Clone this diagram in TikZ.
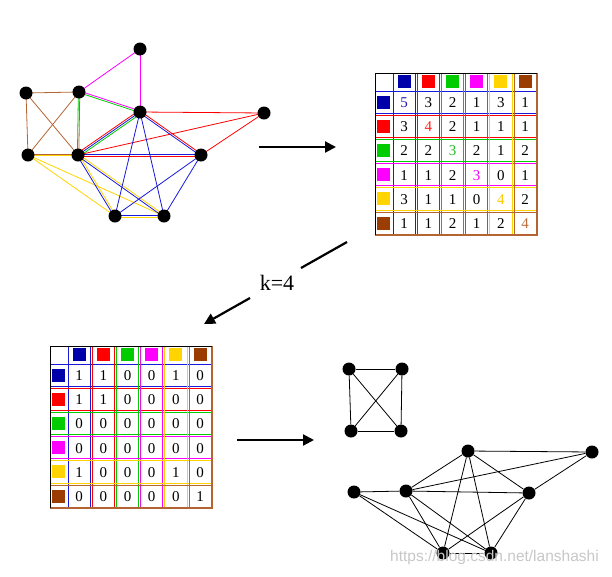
\documentclass[tikz,border=0pt]{standalone}
\usepackage{fontspec}
\setmainfont{Liberation Serif}
\newfontfamily\wmfont{Liberation Sans}
\usetikzlibrary{calc,arrows.meta}
\definecolor{cblue}{RGB}{0,0,170}
\definecolor{lblue}{RGB}{25,25,220}
\definecolor{cred}{RGB}{255,0,0}
\definecolor{cgreen}{RGB}{0,204,0}
\definecolor{cmag}{RGB}{255,0,255}
\definecolor{cyel}{RGB}{255,212,0}
\definecolor{cbrown}{RGB}{155,60,0}
\definecolor{lbrown}{RGB}{180,100,50}
\definecolor{dg0}{RGB}{30,30,170}
\definecolor{dg1}{RGB}{255,30,30}
\definecolor{dg2}{RGB}{30,190,30}
\definecolor{dg3}{RGB}{240,0,240}
\definecolor{dg4}{RGB}{255,200,0}
\definecolor{dg5}{RGB}{190,110,60}
\newcommand{\medge}[4]{\draw[#1] ($(#2)!#4!90:(#3)$) -- ($(#3)!#4!-90:(#2)$);}
\newcommand{\hh}{17}
\newcommand{\cc}{24.2}
\newcommand{\mw}{162.2}
\tikzset{
  vtx/.style={circle,fill=black,minimum size=13pt,inner sep=0pt},
  eline/.style={line width=0.8pt},
  bigarrow/.style={line width=2.2pt,-{Triangle[length=11pt,width=11pt]}},
  bigline/.style={line width=2.2pt},
  band/.style={line width=0.9pt},
  numtxt/.style={font=\fontsize{15}{15}\selectfont,inner sep=0pt},
  sq/.style={minimum size=13pt,inner sep=0pt},
}
\begin{document}
\begin{tikzpicture}[x=1pt,y=-1pt]
\useasboundingbox (0,0) rectangle (612,576);

% ---------- top graph ----------
\coordinate (A) at (140,49);
\coordinate (B) at (26,93);
\coordinate (C) at (79,92);
\coordinate (D) at (140,112);
\coordinate (E) at (264,113);
\coordinate (F) at (28,155);
\coordinate (G) at (78,155);
\coordinate (H) at (201,155);
\coordinate (I) at (115,216);
\coordinate (J) at (164,216);
\begin{scope}[eline]
% magenta
\medge{cmag}{A}{C}{0pt}
\medge{cmag}{A}{D}{0pt}
\medge{cmag}{C}{D}{1.1pt}
% green
\medge{cgreen}{C}{D}{-0.6pt}
\medge{cgreen}{C}{G}{-0.6pt}
\medge{cgreen}{G}{D}{-1.8pt}
% brown
\medge{lbrown}{B}{C}{0pt}
\medge{lbrown}{B}{F}{0pt}
\medge{lbrown}{B}{G}{0pt}
\medge{lbrown}{C}{F}{0pt}
\medge{lbrown}{C}{G}{0.8pt}
\medge{lbrown}{F}{G}{0.8pt}
% red
\medge{cred}{G}{D}{1.8pt}
\medge{cred}{G}{H}{-0.9pt}
\medge{cred}{G}{E}{0pt}
\medge{cred}{D}{H}{0.9pt}
\medge{cred}{D}{E}{0pt}
\medge{cred}{H}{E}{0pt}
% yellow
\medge{cyel}{F}{G}{-0.8pt}
\medge{cyel}{F}{I}{0pt}
\medge{cyel}{F}{J}{0pt}
\medge{cyel}{G}{I}{0.9pt}
\medge{cyel}{G}{J}{0.9pt}
\medge{cyel}{I}{J}{-0.9pt}
% blue
\medge{lblue}{G}{D}{0pt}
\medge{lblue}{G}{H}{0.9pt}
\medge{lblue}{G}{I}{-0.9pt}
\medge{lblue}{G}{J}{-0.9pt}
\medge{lblue}{D}{H}{-0.9pt}
\medge{lblue}{D}{I}{0pt}
\medge{lblue}{D}{J}{0pt}
\medge{lblue}{H}{I}{0pt}
\medge{lblue}{H}{J}{0pt}
\medge{lblue}{I}{J}{0.9pt}
\end{scope}
\foreach \n in {A,B,C,D,E,F,G,H,I,J}
  \node[vtx] (v\n) at (\n) {};

% ---------- top matrix ----------
\begin{scope}[shift={(375,73)}]
  \foreach \col [count=\i from 0] in {lblue,cred,cgreen,cmag,cyel,lbrown} {
    \draw[band,\col] (0,{\hh+\i*\cc+1}) rectangle (\mw,{\hh+(\i+1)*\cc-1});
    \draw[band,\col] ({\hh+\i*\cc+1},0) rectangle ({\hh+(\i+1)*\cc-1},\mw);
  }
  \draw[line width=0.8pt] (0,\mw) -- (0,0) -- (\mw,0);
  \draw[line width=0.8pt,lbrown] (0,\mw) -- (\mw,\mw) -- (\mw,0);
  \foreach \col [count=\i from 0] in {cblue,cred,cgreen,cmag,cyel,cbrown} {
    \node[sq,fill=\col] (tc\i) at ({\hh+(\i+0.5)*\cc},8.6) {};
    \node[sq,fill=\col] (tr\i) at (8.4,{\hh+(\i+0.5)*\cc}) {};
  }
  \foreach \row [count=\r from 0] in {{5,3,2,1,3,1},{3,4,2,1,1,1},{2,2,3,2,1,2},{1,1,2,3,0,1},{3,1,1,0,4,2},{1,1,2,1,2,4}} {
    \foreach \v [count=\c from 0] in \row {
      \ifnum\r=\c \def\tc{dg\c}\else\def\tc{black}\fi
      \node[numtxt,text=\tc] (tm\r\c) at ({\hh+(\c+0.5)*\cc},{\hh+(\r+0.5)*\cc+0.5}) {\v};
    }
  }
\end{scope}

% ---------- bottom matrix ----------
\begin{scope}[shift={(50,346)}]
  \foreach \col [count=\i from 0] in {lblue,cred,cgreen,cmag,cyel,lbrown} {
    \draw[band,\col] (0,{\hh+\i*\cc+1}) rectangle (\mw,{\hh+(\i+1)*\cc-1});
    \draw[band,\col] ({\hh+\i*\cc+1},0) rectangle ({\hh+(\i+1)*\cc-1},\mw);
  }
  \draw[line width=0.8pt] (0,\mw) -- (0,0) -- (\mw,0);
  \draw[line width=0.8pt,lbrown] (0,\mw) -- (\mw,\mw) -- (\mw,0);
  \foreach \col [count=\i from 0] in {cblue,cred,cgreen,cmag,cyel,cbrown} {
    \node[sq,fill=\col] (bc\i) at ({\hh+(\i+0.5)*\cc},8.6) {};
    \node[sq,fill=\col] (br\i) at (8.4,{\hh+(\i+0.5)*\cc}) {};
  }
  \foreach \row [count=\r from 0] in {{1,1,0,0,1,0},{1,1,0,0,0,0},{0,0,0,0,0,0},{0,0,0,0,0,0},{1,0,0,0,1,0},{0,0,0,0,0,1}} {
    \foreach \v [count=\c from 0] in \row {
      \node[numtxt] (bm\r\c) at ({\hh+(\c+0.5)*\cc},{\hh+(\r+0.5)*\cc+0.5}) {\v};
    }
  }
\end{scope}

% ---------- arrows ----------
\coordinate (a1s) at (259,147);
\coordinate (a1e) at (336,147);
\draw[bigarrow] (a1s) -- (a1e);
\coordinate (k1) at (347,242);
\coordinate (k2) at (301,268);
\node[font=\fontsize{22}{22}\selectfont,inner sep=0pt] (klab) at (277,283) {k=4};
\coordinate (k3) at (250,298);
\coordinate (k4) at (204,324);
\draw[bigline] (k1) -- (k2);
\draw[bigarrow] (k3) -- (k4);
\coordinate (a2s) at (237,440);
\coordinate (a2e) at (314,440);
\draw[bigarrow] (a2s) -- (a2e);

% ---------- result graphs ----------
\node[vtx] (S1) at (349,369) {};
\node[vtx] (S2) at (402,369) {};
\node[vtx] (S3) at (351,431) {};
\node[vtx] (S4) at (401,431) {};
\node[vtx] (T1) at (468,451) {};
\node[vtx] (T2) at (592,452) {};
\node[vtx] (T3) at (354,492) {};
\node[vtx] (T4) at (406,491) {};
\node[vtx] (T5) at (529,493) {};
\node[vtx] (T6) at (443,553) {};
\node[vtx] (T7) at (491,553) {};
\begin{scope}[eline]
\foreach \a/\b in {S1/S2,S1/S3,S2/S4,S3/S4,S1/S4,S2/S3,
  T1/T2,T1/T4,T1/T5,T1/T6,T1/T7,T2/T4,T2/T5,T3/T4,T3/T6,T3/T7,
  T4/T5,T4/T6,T4/T7,T5/T6,T5/T7,T6/T7}
  \draw (\a) -- (\b);
\end{scope}

% ---------- watermark ----------
\node[font=\wmfont\fontsize{15.5}{15.5}\selectfont,text=black!22,anchor=west,inner sep=0pt] (wm) at (390,557) {https://blog.csdn.net/lanshashi};
\end{tikzpicture}
\end{document}
